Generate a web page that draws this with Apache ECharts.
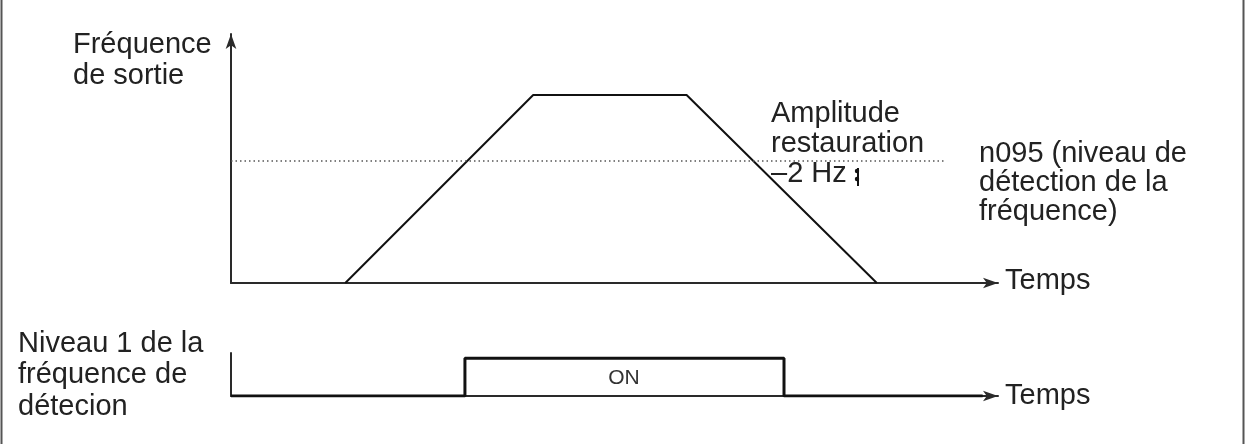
<!DOCTYPE html>
<html>
<head>
<meta charset="utf-8">
<script src="https://cdn.jsdelivr.net/npm/echarts@6/dist/echarts.min.js"></script>
<style>
html,body{margin:0;padding:0;background:#fff;}
#chart{width:1245px;height:444px;}
</style>
</head>
<body>
<div id="chart"></div>
<script>
// ---- data ----
const rampTime = [14.9, 39.4, 59.4, 84.2];
const rampFreq = [0, 75.5, 75.5, 0];
const detectLevel = 49;
const detectLineEnd = 93.2;
const signalTime = [0, 30.5, 30.5, 72.1, 72.1, 98];
const signalLevel = [0, 0, 1, 1, 0, 0];
const axisLabels = ['Temps', 'Temps'];
const upperYLabel = 'Fréquence\nde sortie';
const lowerYLabel = 'Niveau 1 de la\nfréquence de\ndétecion';
const hystLabel = 'Amplitude\nrestauration\n–2 Hz';
const levelLabel = 'n095 (niveau de\ndétection de la\nfréquence)';
const onLabel = 'ON';

const FONT = '"Liberation Sans", Arial, sans-serif';
const INK = '#222';
const FS = 29;

const chart = echarts.init(document.getElementById('chart'), null, {renderer: 'canvas'});

const axisLineStyle = {color: '#2a2a2a', width: 2};

function txt(text, x, y, size, lh, extra) {
  return {
    type: 'text', x: x, y: y, silent: true,
    style: Object.assign({
      text: text, fill: INK, font: size + 'px ' + FONT,
      lineHeight: lh, verticalAlign: 'top', align: 'left'
    }, extra || {})
  };
}

const option = {
  animation: false,
  backgroundColor: '#fff',
  grid: [
    {left: 231, top: 34, width: 767, height: 249},
    {left: 231, top: 353, width: 767, height: 43}
  ],
  xAxis: [
    {gridIndex: 0, type: 'value', min: 0, max: 100,
     axisLine: {show: true, lineStyle: axisLineStyle, symbol: ['none', 'arrow'], symbolSize: [8, 15]},
     axisTick: {show: false}, axisLabel: {show: false}, splitLine: {show: false}},
    {gridIndex: 1, type: 'value', min: 0, max: 100,
     axisLine: {show: true, lineStyle: axisLineStyle, symbol: ['none', 'arrow'], symbolSize: [8, 15]},
     axisTick: {show: false}, axisLabel: {show: false}, splitLine: {show: false}}
  ],
  yAxis: [
    {gridIndex: 0, type: 'value', min: 0, max: 100,
     axisLine: {show: true, lineStyle: axisLineStyle, symbol: ['none', 'arrow'], symbolSize: [8, 15]},
     axisTick: {show: false}, axisLabel: {show: false}, splitLine: {show: false}},
    {gridIndex: 1, type: 'value', min: 0, max: 1.14,
     axisLine: {show: true, lineStyle: axisLineStyle},
     axisTick: {show: false}, axisLabel: {show: false}, splitLine: {show: false}}
  ],
  series: [
    {
      type: 'line', xAxisIndex: 0, yAxisIndex: 0,
      data: rampTime.map((t, i) => [t, rampFreq[i]]),
      symbol: 'none', lineStyle: {color: '#111', width: 2},
      silent: true,
      markLine: {
        silent: true, symbol: ['none', 'none'], label: {show: false},
        lineStyle: {color: '#555', width: 1.5, type: [1.5, 3]},
        data: [[{coord: [0, detectLevel]}, {coord: [detectLineEnd, detectLevel]}]]
      }
    },
    {
      type: 'line', xAxisIndex: 1, yAxisIndex: 1,
      data: signalTime.map((t, i) => [t, signalLevel[i]]),
      symbol: 'none', lineStyle: {color: '#111', width: 3},
      silent: true
    }
  ],
  graphic: [
    {type: 'line', silent: true, shape: {x1: 1.5, y1: 0, x2: 1.5, y2: 444}, style: {stroke: '#555', lineWidth: 2}},
    {type: 'line', silent: true, shape: {x1: 1243.5, y1: 0, x2: 1243.5, y2: 444}, style: {stroke: '#555', lineWidth: 2}},
    txt(upperYLabel, 73, 29, FS, 31),
    txt(lowerYLabel, 18, 328, FS, 31.5),
    txt(hystLabel, 771, 99, FS, 30),
    txt(levelLabel, 979, 139, FS, 29),
    txt(axisLabels[0], 1005, 265, FS, 31),
    txt(axisLabels[1], 1005, 380, FS, 31),
    txt(onLabel, 624, 378, 21, 21, {align: 'center', verticalAlign: 'middle', fill: '#333'}),
    {type: 'line', silent: true, shape: {x1: 858, y1: 168, x2: 858, y2: 186}, style: {stroke: '#111', lineWidth: 2}},
    {type: 'circle', silent: true, shape: {cx: 857, cy: 171, r: 2.2}, style: {fill: '#111'}},
    {type: 'circle', silent: true, shape: {cx: 857, cy: 179, r: 2.2}, style: {fill: '#111'}}
  ]
};
chart.setOption(option);
</script>
</body>
</html>
